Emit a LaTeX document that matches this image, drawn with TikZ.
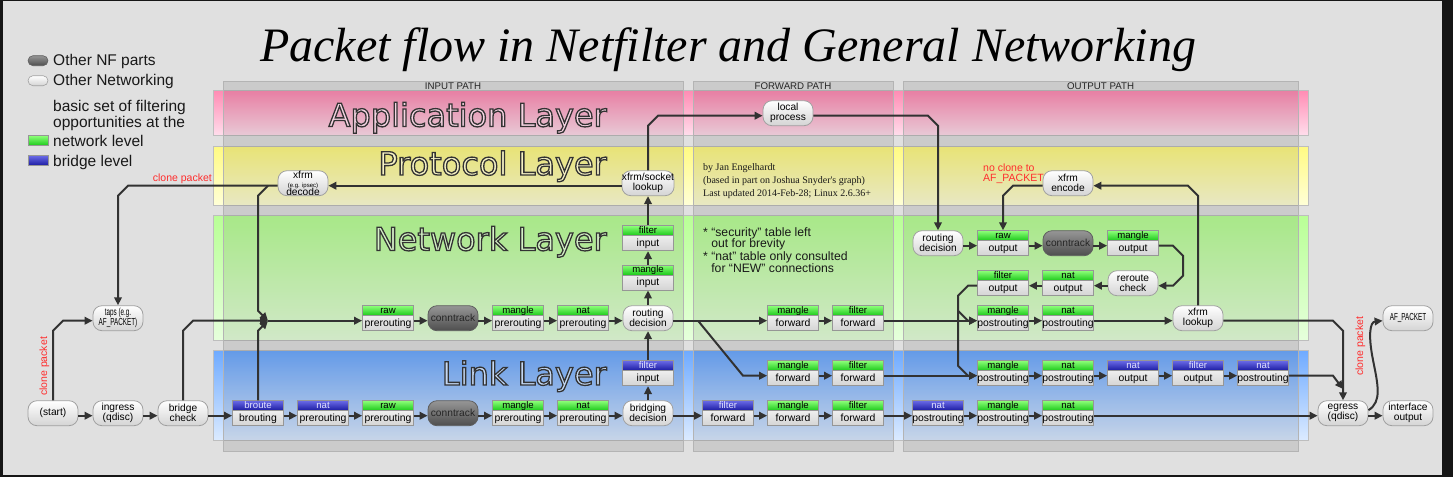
\documentclass[tikz,border=0pt]{standalone}
\usepackage{fontspec}
\usepackage{graphicx}
\setmainfont{Liberation Sans}
\newfontfamily\titlefont{Liberation Serif}
\newfontfamily\credfont{Liberation Serif}
\newfontfamily\layerfont{DejaVu Sans}
\usetikzlibrary{arrows.meta,calc}
\newcommand\setfs[2]{\fontsize{#1}{#2}\selectfont}
\newcommand\outl[1]{\special{pdf:literal direct 2 Tr 1.3 w 0.2 0.2 0.2 RG}#1\special{pdf:literal direct 0 Tr}}
\newcommand\narrowtxt[1]{\scalebox{0.62}[1]{#1}}
\definecolor{bg}{RGB}{224,224,224}
\definecolor{frame}{RGB}{22,22,22}
\definecolor{wire}{RGB}{50,50,50}
\definecolor{redtxt}{RGB}{255,45,45}
\definecolor{pillbd}{RGB}{160,160,160}
\definecolor{pillbot}{RGB}{212,212,212}
\definecolor{dk1}{RGB}{150,150,150}
\definecolor{dk2}{RGB}{78,78,78}
\definecolor{dk3}{RGB}{95,95,95}
\definecolor{boxbd}{RGB}{150,150,150}
\definecolor{boxbot}{RGB}{212,212,212}
\definecolor{g1}{RGB}{140,255,120}
\definecolor{g2}{RGB}{25,200,25}
\definecolor{b1}{RGB}{105,105,230}
\definecolor{b2}{RGB}{25,25,160}
\definecolor{btxt}{RGB}{225,225,255}
\definecolor{appT}{RGB}{255,140,180}
\definecolor{appB}{RGB}{255,222,236}
\definecolor{proT}{RGB}{255,250,130}
\definecolor{proB}{RGB}{255,255,215}
\definecolor{netT}{RGB}{185,255,150}
\definecolor{netB}{RGB}{230,255,220}
\definecolor{lnkT}{RGB}{110,170,255}
\definecolor{lnkB}{RGB}{220,235,255}
\definecolor{appF}{RGB}{246,212,226}
\definecolor{proF}{RGB}{246,242,196}
\definecolor{netF}{RGB}{214,242,200}
\definecolor{lnkF}{RGB}{196,216,244}
\definecolor{colbd}{RGB}{180,180,180}
\definecolor{laybd}{RGB}{190,190,190}
\newcommand\chainbox[6]{%
  \node[boxn] (#1) at (#2,#3-2.5) {};
  \node[band#6,anchor=north] (#1-t) at (#1.north) {#4};
  \node[chaintxt] (#1-c) at ([yshift=7.5pt]#1.south) {#5};}
\newcommand\hconn[2]{\draw[conn] ([yshift=-2.5pt]#1.east) -- ([yshift=-2.5pt]#2.west);}
\begin{document}
\begin{tikzpicture}[x=1pt,y=-1pt,
  every node/.style={inner sep=0pt},
  conn/.style={draw=wire,line width=2pt,-{Triangle[length=8pt,width=7.5pt]}},
  pill/.style={rounded corners=9pt,minimum width=50pt,minimum height=25pt,draw=pillbd,line width=0.8pt,top color=white,bottom color=pillbot,align=center,font=\setfs{10.2}{10}},
  darkpill/.style={pill,top color=dk1,bottom color=dk2,draw=dk3,text=black!85},
  boxn/.style={minimum width=51pt,minimum height=25pt,draw=boxbd,line width=0.8pt,top color=white,bottom color=boxbot},
  bandbase/.style={minimum width=51pt,minimum height=10pt,draw=boxbd,line width=0.8pt,text height=6.8pt,text depth=1.8pt,font=\setfs{9.6}{10}},
  bandg/.style={bandbase,top color=g1,bottom color=g2,text=black},
  bandb/.style={bandbase,top color=b1,bottom color=b2,text=btxt},
  chaintxt/.style={text height=7.5pt,text depth=2.4pt,font=\setfs{10.4}{10}},
  layerlbl/.style={anchor=base east,font=\layerfont\setfs{32}{32}},
  pathlbl/.style={anchor=base,font=\setfs{9.7}{10},text=black!85},
  legtxt/.style={anchor=base west,font=\setfs{15.5}{16},text=black!90},
  redlbl/.style={font=\setfs{10.5}{11},text=redtxt},
  note/.style={anchor=base west,font=\setfs{12.2}{12},text=black!90},
  cred/.style={anchor=base west,font=\credfont\setfs{10}{10},text=black!90}]
\useasboundingbox (0,0) rectangle (1453,477);
\fill[frame] (0,0) rectangle (1453,477);
\fill[bg] (3,1) rectangle (1442,475);
% title
\node[anchor=base,font=\titlefont\itshape\setfs{48}{48}] (title) at (728,61) {Packet flow in Netfilter and General Networking};
% legend
\node[rounded corners=5pt,minimum width=20pt,minimum height=10pt,draw=dk3,line width=0.6pt,top color=dk1,bottom color=dk2] (lgdark) at (38,60.7) {};
\node[rounded corners=5pt,minimum width=20pt,minimum height=10pt,draw=pillbd,line width=0.6pt,top color=white,bottom color=pillbot] (lgwhite) at (38,80.7) {};
\node[minimum width=20pt,minimum height=10pt,draw=boxbd,line width=0.6pt,top color=g1,bottom color=g2] (lggreen) at (38,140.7) {};
\node[minimum width=20pt,minimum height=10pt,draw=boxbd,line width=0.6pt,top color=b1,bottom color=b2] (lgblue) at (38,160.7) {};
\node[legtxt] (lt1) at (53,65.5) {Other NF parts};
\node[legtxt] (lt2) at (53,85.5) {Other Networking};
\node[legtxt] (lt3) at (53,111) {basic set of filtering};
\node[legtxt] (lt4) at (53,127) {opportunities at the};
\node[legtxt] (lt5) at (53,146.2) {network level};
\node[legtxt] (lt6) at (53,166.2) {bridge level};
% layers
\shadedraw[top color=appT,bottom color=appB,draw=laybd,line width=0.8pt] (213,90.5) rectangle (1308,135.5);
\shadedraw[top color=proT,bottom color=proB,draw=laybd,line width=0.8pt] (213,146) rectangle (1308,205);
\shadedraw[top color=netT,bottom color=netB,draw=laybd,line width=0.8pt] (213,215.5) rectangle (1308,340);
\shadedraw[top color=lnkT,bottom color=lnkB,draw=laybd,line width=0.8pt] (213,350) rectangle (1308,440.5);
% path columns
\filldraw[fill=black,fill opacity=0.09,draw=colbd,line width=0.8pt] (223,81) rectangle (683,451);
\filldraw[fill=black,fill opacity=0.09,draw=colbd,line width=0.8pt] (693,81) rectangle (893,451);
\filldraw[fill=black,fill opacity=0.09,draw=colbd,line width=0.8pt] (903,81) rectangle (1298,451);
\node[pathlbl] (pin) at (453,89.5) {INPUT PATH};
\node[pathlbl] (pfw) at (793,89.5) {FORWARD PATH};
\node[pathlbl] (pout) at (1100.5,89.5) {OUTPUT PATH};
% layer labels
\node[layerlbl,text=appF] (lapp) at (607,126.5) {\outl{Application Layer}};
\node[layerlbl,text=proF] (lpro) at (607,175) {\outl{Protocol Layer}};
\node[layerlbl,text=netF] (lnet) at (607,250.5) {\outl{Network Layer}};
\node[layerlbl,text=lnkF] (llnk) at (607,385) {\outl{Link Layer}};
% notes
\node[cred] (c1) at (703,170.5) {by Jan Engelhardt};
\node[cred] (c2) at (703,183.5) {(based in part on Joshua Snyder's graph)};
\node[cred] (c3) at (703,196) {Last updated 2014-Feb-28; Linux 2.6.36+};
\node[note] (n1) at (703,236) {* “security” table left};
\node[note] (n2) at (703,247.8) {\hphantom{* }out for brevity};
\node[note] (n3) at (703,260) {* “nat” table only consulted};
\node[note] (n4) at (703,272) {\hphantom{* }for “NEW” connections};
\node[redlbl,anchor=base east] (r1) at (212,181.5) {clone packet};
\node[redlbl,rotate=90] (r2) at (44.5,366.5) {clone packet};
\node[redlbl,rotate=90] (r3) at (1360.3,346.3) {clone packet};
\node[redlbl,anchor=base west] (r4) at (983,171) {no clone to};
\node[redlbl,anchor=base west] (r5) at (983,181) {AF\_PACKET};
% ---- link row L=415.7
\node[pill] (start) at (53,413.2) {(start)};
\node[pill] (ingress) at (118,413.2) {ingress\\(qdisc)};
\node[pill] (bcheck) at (183,413.2) {bridge\\check};
\chainbox{brout}{258}{415.7}{broute}{brouting}{b}
\chainbox{natpreL}{323}{415.7}{nat}{prerouting}{b}
\chainbox{rawpreL}{388}{415.7}{raw}{prerouting}{g}
\node[darkpill] (ctL) at (453,413.2) {conntrack};
\chainbox{mglpreL}{518}{415.7}{mangle}{prerouting}{g}
\chainbox{natpreL2}{583}{415.7}{nat}{prerouting}{g}
\node[pill] (bridging) at (648,413.2) {bridging\\decision};
\chainbox{filfwdL}{728}{415.7}{filter}{forward}{b}
\chainbox{mglfwdL}{793}{415.7}{mangle}{forward}{g}
\chainbox{filfwdL2}{858}{415.7}{filter}{forward}{g}
\chainbox{natpostL}{938}{415.7}{nat}{postrouting}{b}
\chainbox{mglpostL}{1003}{415.7}{mangle}{postrouting}{g}
\chainbox{natpostL2}{1068}{415.7}{nat}{postrouting}{g}
\node[pill] (egress) at (1343,413.2) {egress\\(qdisc)};
\node[pill] (ifout) at (1408,413.2) {interface\\output};
% ---- upper link row L=375.7
\chainbox{filinL}{648}{375.7}{filter}{input}{b}
\chainbox{mglfwdU}{793}{375.7}{mangle}{forward}{g}
\chainbox{filfwdU}{858}{375.7}{filter}{forward}{g}
\chainbox{mglpostU}{1003}{375.7}{mangle}{postrouting}{g}
\chainbox{natpostU}{1068}{375.7}{nat}{postrouting}{g}
\chainbox{natoutU}{1133}{375.7}{nat}{output}{b}
\chainbox{filoutU}{1198}{375.7}{filter}{output}{b}
\chainbox{natpostU2}{1263}{375.7}{nat}{postrouting}{b}
% ---- network row L=320.7
\node[pill] (taps) at (118,318.2) {\narrowtxt{taps (e.g.}\\\narrowtxt{AF\_PACKET)}};
\chainbox{rawpre}{388}{320.7}{raw}{prerouting}{g}
\node[darkpill] (ct) at (453,318.2) {conntrack};
\chainbox{mglpre}{518}{320.7}{mangle}{prerouting}{g}
\chainbox{natpre}{583}{320.7}{nat}{prerouting}{g}
\node[pill] (routing) at (648,318.2) {routing\\decision};
\chainbox{mglfwd}{793}{320.7}{mangle}{forward}{g}
\chainbox{filfwd}{858}{320.7}{filter}{forward}{g}
\chainbox{mglpost}{1003}{320.7}{mangle}{postrouting}{g}
\chainbox{natpost}{1068}{320.7}{nat}{postrouting}{g}
\node[pill] (xlookup) at (1198,318.2) {xfrm\\lookup};
\node[pill] (afp) at (1408,318.2) {\narrowtxt{AF\_PACKET}};
% ---- network upper
\chainbox{mglin}{648}{280}{mangle}{input}{g}
\chainbox{filin}{648}{240.7}{filter}{input}{g}
\node[pill] (routingO) at (938,243.2) {routing\\decision};
\chainbox{rawout}{1003}{245.7}{raw}{output}{g}
\node[darkpill] (ctO) at (1068,243.2) {conntrack};
\chainbox{mglout}{1133}{245.7}{mangle}{output}{g}
\chainbox{filout}{1003}{285.7}{filter}{output}{g}
\chainbox{natout}{1068}{285.7}{nat}{output}{g}
\node[pill] (reroute) at (1133,283.2) {reroute\\check};
% ---- protocol / application
\node[pill] (decode) at (303,183.2) {xfrm\\[-1.5pt]{\setfs{6}{6}(e.g. ipsec)}\\[-2pt]decode};
\node[pill] (socklk) at (648,183.2) {xfrm/socket\\lookup};
\node[pill] (encode) at (1068,183.2) {xfrm\\encode};
\node[pill] (lproc) at (788,113.2) {local\\process};
% ---- junctions
\coordinate (J) at (268,320.7);
\coordinate (dB) at (268,185.7);
\coordinate (rB) at (698,320.7);
\coordinate (fB) at (958,310.7);
\coordinate (eM) at (1343,389);
% ---- connectors link row
\hconn{start}{ingress}
\hconn{ingress}{bcheck}
\hconn{bcheck}{brout}
\hconn{brout}{natpreL}
\hconn{natpreL}{rawpreL}
\hconn{rawpreL}{ctL}
\hconn{ctL}{mglpreL}
\hconn{mglpreL}{natpreL2}
\hconn{natpreL2}{bridging}
\hconn{bridging}{filfwdL}
\hconn{filfwdL}{mglfwdL}
\hconn{mglfwdL}{filfwdL2}
\hconn{filfwdL2}{natpostL}
\hconn{natpostL}{mglpostL}
\hconn{mglpostL}{natpostL2}
\hconn{natpostL2}{egress}
\hconn{egress}{ifout}
% upper link row
\hconn{mglfwdU}{filfwdU}
\hconn{filfwdU}{mglpostU}
\hconn{mglpostU}{natpostU}
\hconn{natpostU}{natoutU}
\hconn{natoutU}{filoutU}
\hconn{filoutU}{natpostU2}
\draw[conn] ([yshift=-2.5pt]natpostU2.east) -- (1333,375.7) -- (eM);
% network row
\draw[conn] (start.north) -- (53,330.7) -- (63,320.7) -- ([yshift=-2.5pt]taps.west);
\draw[conn] (bcheck.north) -- (183,330.7) -- (193,320.7) -- (J);
\draw[conn] (brout.north) -- (258,330.7) -- (J);
\draw[conn] ([yshift=-2.5pt]decode.west) -- (128,185.7) -- (118,195.7) -- (taps.north);
\draw[conn] (dB) -- (258,195.7) -- (258,310.7) -- (J);
\draw[conn] (J) -- ([yshift=-2.5pt]rawpre.west);
\hconn{rawpre}{ct}
\hconn{ct}{mglpre}
\hconn{mglpre}{natpre}
\hconn{natpre}{routing}
\hconn{routing}{mglfwd}
\draw[conn] (rB) -- (743,375.7) -- ([yshift=-2.5pt]mglfwdU.west);
\hconn{mglfwd}{filfwd}
\hconn{filfwd}{mglpost}
\hconn{mglpost}{natpost}
\hconn{natpost}{xlookup}
\draw[conn] ([yshift=-2.5pt]xlookup.east) -- (1333,320.7) -- (1343,330.7) -- (egress.north);
\draw[conn] ([yshift=3pt]egress.east) .. controls (1382,402) and (1378,385) .. (1373,360) .. controls (1368,335) and (1370,322) .. ([yshift=-2.5pt]afp.west);
% vertical stack
\draw[conn] (bridging.north) -- (filinL.south);
\draw[conn] (filinL.north) -- (routing.south);
\draw[conn] (routing.north) -- (mglin.south);
\draw[conn] (mglin.north) -- (filin.south);
\draw[conn] (filin.north) -- (socklk.south);
\draw[conn] (socklk.north) -- (648,125.7) -- (658,115.7) -- ([yshift=-2.5pt]lproc.west);
\draw[conn] ([yshift=-2.5pt]socklk.west) -- ([yshift=-2.5pt]decode.east);
\draw[conn] ([yshift=-2.5pt]lproc.east) -- (928,115.7) -- (938,125.7) -- (routingO.north);
% output
\hconn{routingO}{rawout}
\hconn{rawout}{ctO}
\hconn{ctO}{mglout}
\draw[conn] ([yshift=-2.5pt]mglout.east) -- (1173,245.7) -- (1183,255.7) -- (1183,275.7) -- (1173,285.7) -- ([yshift=-2.5pt]reroute.east);
\draw[conn] ([yshift=-2.5pt]reroute.west) -- ([yshift=-2.5pt]natout.east);
\draw[conn] ([yshift=-2.5pt]natout.west) -- ([yshift=-2.5pt]filout.east);
\draw[conn] ([yshift=-2.5pt]filout.west) -- (968,285.7) -- (958,295.7) -- (958,365.7) -- (968,375.7) -- ([yshift=-2.5pt]mglpostU.west);
\draw[conn] (fB) -- (968,320.7) -- ([yshift=-2.5pt]mglpost.west);
\draw[conn] (xlookup.north) -- (1198,195.7) -- (1188,185.7) -- ([yshift=-2.5pt]encode.east);
\draw[conn] ([yshift=-2.5pt]encode.west) -- (1013,185.7) -- (1003,195.7) -- (rawout.north);
\end{tikzpicture}
\end{document}
